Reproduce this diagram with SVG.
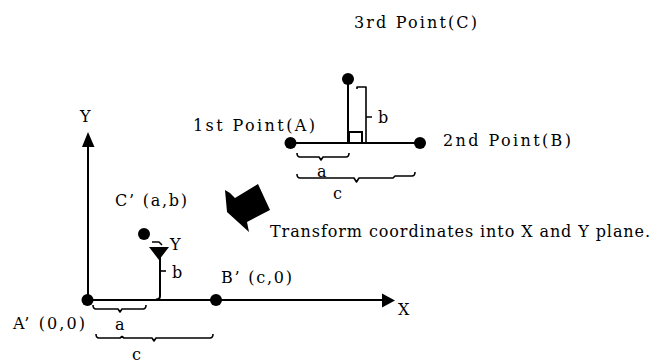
<svg xmlns="http://www.w3.org/2000/svg" width="651" height="363" viewBox="0 0 651 363">
<style>
  .ln { stroke: #000; stroke-width: 2; fill: none; }
  .br { stroke: #000; stroke-width: 1.6; fill: none; stroke-linejoin: round; }
  .dot { fill: #000; }
  .fill { fill: #000; stroke: none; }
  text { font-family: "DejaVu Serif", "Liberation Serif", serif; font-size: 16px; fill: #000; }
</style>
<rect width="651" height="363" fill="#fff"/>

<g id="connectors">
  <!-- top: A-B baseline and C perpendicular -->
  <line class="ln" x1="290" y1="143" x2="420" y2="143"/>
  <line class="ln" x1="348" y1="79" x2="348" y2="143"/>
  <rect class="ln" x="349" y="132" width="13" height="11"/>
  <!-- b bracket top -->
  <path class="br" d="M357,89 L357,87 L366,87 L366,143 M366,117 L372,117"/>
  <!-- a brace top -->
  <path class="br" d="M297,153 Q297,157 300,157 L319,157 L321,160 L323,157 L346,157 Q349,157 349,153"/>
  <!-- c brace top -->
  <path class="br" d="M297,174 Q297,178 300,178 L354,178 L356.5,182 L359,178 L393,178 L395,176 L412,176 Q415,176 415,172"/>

  <!-- axes -->
  <line class="ln" x1="88" y1="146" x2="88" y2="300"/>
  <polygon class="fill" points="88,132 82,147 94.5,147"/>
  <line class="ln" x1="87" y1="300" x2="383" y2="300"/>
  <polygon class="fill" points="382,293.5 395,300.5 382,307.5"/>

  <!-- C' to X axis bracket -->
  <path class="br" d="M152,242 L159,242 L162,245"/>
  <polygon class="fill" points="149,247 169,247 159,260"/>
  <path class="ln" d="M160,256 L160,296 Q160,299.5 156,299.5"/>
  <path class="br" d="M160,271 L166,271"/>
  <!-- a brace bottom -->
  <path class="br" d="M93,305 Q93,309 96,309 L118,309 L120,312 L122,309 L143,309 Q146,309 146,305"/>
  <!-- c brace bottom -->
  <path class="br" d="M96,334 Q96,338 99,338 L120,338 L122,336.5 L124,338 L152,338 L154,341 L156,338 L210,338 Q213,338 213,334"/>

  <!-- transform arrow -->
  <polygon class="fill" points="225,190 230,193 235,198 258,184 270,210 247,222 249,232 227,212"/>
</g>

<g id="nodeA"><circle class="dot" cx="290.5" cy="143" r="6"/><text x="193" y="131" textLength="122" lengthAdjust="spacing">1st  Point(A)</text></g>
<g id="nodeB"><circle class="dot" cx="420" cy="143" r="6"/><text x="443" y="146" textLength="128" lengthAdjust="spacing">2nd  Point(B)</text></g>
<g id="nodeC"><circle class="dot" cx="348" cy="79" r="6"/><text x="354" y="28" textLength="123" lengthAdjust="spacing">3rd  Point(C)</text></g>

<g id="labelsTop">
  <text x="378" y="123">b</text>
  <text x="317" y="177">a</text>
  <text x="333" y="199">c</text>
</g>

<g id="nodeAprime"><circle class="dot" cx="87.5" cy="300" r="6"/><text x="13" y="329" textLength="72" lengthAdjust="spacing">A’ (0,0)</text></g>
<g id="nodeBprime"><circle class="dot" cx="216" cy="300" r="6"/><text x="221" y="283" textLength="71" lengthAdjust="spacing">B’ (c,0)</text></g>
<g id="nodeCprime"><circle class="dot" cx="144" cy="234" r="6"/><text x="115" y="206" textLength="72" lengthAdjust="spacing">C’ (a,b)</text></g>

<g id="labelsBottom">
  <text x="80" y="121.5">Y</text>
  <text x="398" y="315">X</text>
  <text x="170" y="250">Y</text>
  <text x="172" y="278">b</text>
  <text x="115" y="330">a</text>
  <text x="132" y="360">c</text>
  <text x="270" y="237" textLength="380" lengthAdjust="spacing">Transform coordinates into X and Y plane.</text>
</g>
</svg>
